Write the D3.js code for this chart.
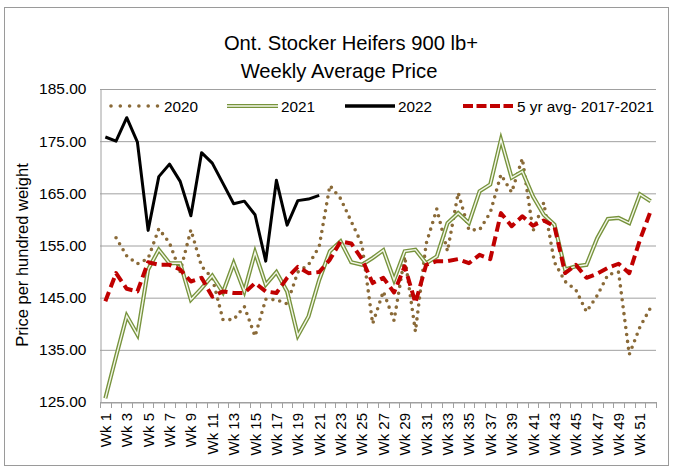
<!DOCTYPE html>
<html><head><meta charset="utf-8">
<script src="https://cdn.jsdelivr.net/npm/d3@7/dist/d3.min.js"></script>
<style>body{margin:0;background:#fff}svg{display:block}text{font-family:"Liberation Sans",Arial,sans-serif;fill:#000}</style>
</head><body><svg id="c" width="674" height="470"></svg>
<script>
const weeks = ["Wk 1","Wk 2","Wk 3","Wk 4","Wk 5","Wk 6","Wk 7","Wk 8","Wk 9","Wk 10","Wk 11","Wk 12","Wk 13","Wk 14","Wk 15","Wk 16","Wk 17","Wk 18","Wk 19","Wk 20","Wk 21","Wk 22","Wk 23","Wk 24","Wk 25","Wk 26","Wk 27","Wk 28","Wk 29","Wk 30","Wk 31","Wk 32","Wk 33","Wk 34","Wk 35","Wk 36","Wk 37","Wk 38","Wk 39","Wk 40","Wk 41","Wk 42","Wk 43","Wk 44","Wk 45","Wk 46","Wk 47","Wk 48","Wk 49","Wk 50","Wk 51","Wk 52"];
const yTicks = [125,135,145,155,165,175,185];
const seriesNames = ["2020","2021","2022","5 yr avg- 2017-2021"];
const s2020 = [null,156.5,153.0,151.5,152.5,158.2,155.5,150.0,158.0,151.0,148.8,140.8,140.8,143.3,137.6,144.7,144.6,143.8,149.9,151.3,154.8,166.5,164.0,159.6,155.2,140.0,146.2,140.6,152.9,138.5,155.3,162.0,153.9,165.1,158.0,158.0,161.3,168.6,165.2,171.7,157.8,163.2,151.8,148.1,146.5,142.3,145.4,149.4,149.9,134.1,139.4,143.1];
const s2021 = [125.7,133.7,141.5,137.9,150.4,154.2,151.6,151.6,144.6,146.8,149.2,146.0,151.6,146.2,153.7,147.5,149.9,146.2,137.7,141.4,148.4,153.9,155.8,151.8,151.3,152.6,154.1,148.4,153.9,154.2,151.6,152.9,159.3,161.2,159.3,165.4,166.7,175.3,168.0,169.2,164.4,160.9,159.0,150.4,151.0,151.3,156.4,160.1,160.3,159.3,164.8,163.5];
const s2022 = [175.8,175.0,179.5,174.8,157.9,168.2,170.6,167.3,160.7,172.8,170.8,166.9,163.0,163.5,160.9,152.0,167.5,158.9,163.6,163.9,164.6];
const s5yr = [144.3,149.7,146.7,146.2,151.8,151.3,151.3,150.4,148.1,148.8,145.2,146.2,145.9,145.9,147.8,146.2,145.9,148.8,150.9,149.7,149.9,152.3,155.8,155.4,152.4,147.8,148.8,146.0,151.0,144.0,151.3,152.0,152.0,152.4,151.6,153.2,152.4,161.2,158.7,160.6,158.8,159.8,158.7,149.7,151.3,148.8,149.6,150.7,151.5,149.7,156.1,161.6];

const svg = d3.select("#c");
const L = 100, R = 656, T = 89, B = 402;
const x = d3.scaleBand().domain(weeks).range([L, R]);
const y = d3.scaleLinear().domain([125, 185]).range([B, T]);

// outer border
svg.append("rect").attr("x",4.5).attr("y",7.5).attr("width",664).attr("height",458)
  .attr("fill","#fff").attr("stroke","#9a9a9a").attr("stroke-width",1);

// title
svg.append("text").attr("x",351).attr("y",50).attr("text-anchor","middle").style("font-size","20.2px").text("Ont. Stocker Heifers 900 lb+");
svg.append("text").attr("x",339).attr("y",78).attr("text-anchor","middle").style("font-size","20.2px").text("Weekly Average Price");

// gridlines
svg.append("g").selectAll("line").data(yTicks).join("line")
  .attr("x1",L).attr("x2",R).attr("y1",d=>y(d)+0.5).attr("y2",d=>y(d)+0.5)
  .attr("stroke","#a0a0a0").attr("stroke-width",1);

// y axis
const yAxis = svg.append("g").attr("transform",`translate(${L+0.5},0)`)
  .call(d3.axisLeft(y).tickValues(yTicks).tickFormat(d3.format(".2f")).tickSize(0).tickPadding(14));
yAxis.select(".domain").attr("stroke","#a0a0a0");
yAxis.selectAll("text").style("font-size","15.5px").style("font-family","Liberation Sans, Arial, sans-serif").attr("fill","#000");

// x axis
const xAxis = svg.append("g").attr("transform",`translate(0,${B+0.5})`)
  .call(d3.axisBottom(x).tickSize(0).tickFormat(""));
xAxis.select(".domain").attr("stroke","#a0a0a0");
xAxis.selectAll(".tick").remove();
const bounds = weeks.map(w => x(w)).concat([R]);
svg.append("g").selectAll("line").data(bounds).join("line")
  .attr("x1",d=>Math.round(d)+0.5).attr("x2",d=>Math.round(d)+0.5).attr("y1",B).attr("y2",B+6)
  .attr("stroke","#a0a0a0");
svg.append("g").selectAll("text").data(weeks.filter((w,i)=>i%2===0)).join("text")
  .attr("transform",d=>`translate(${x(d)+x.bandwidth()/2+5.5},${B+11}) rotate(-90)`)
  .attr("text-anchor","end").style("font-size","15px").text(d=>d);

// y axis title
svg.append("text").attr("transform","translate(28,255) rotate(-90)").attr("text-anchor","middle")
  .style("font-size","16.5px").text("Price per hundred weight");

const cx = i => x(weeks[i]) + x.bandwidth()/2;
const line = d3.line().defined(d=>d!=null).x((d,i)=>cx(i)).y(d=>y(d));

// 2020 dotted
svg.append("path").attr("d",line(s2020)).attr("fill","none").attr("stroke","#8a6a38")
  .attr("stroke-width",3.6).attr("stroke-linecap","round").attr("stroke-dasharray","0,7");
// 2021 double
svg.append("path").attr("d",line(s2021)).attr("fill","none").attr("stroke","#77933c")
  .attr("stroke-width",4.1).attr("stroke-linejoin","miter");
svg.append("path").attr("d",line(s2021)).attr("fill","none").attr("stroke","#f3f7ea")
  .attr("stroke-width",1.4).attr("stroke-linejoin","miter");
// 2022 black
svg.append("path").attr("d",line(s2022)).attr("fill","none").attr("stroke","#000")
  .attr("stroke-width",3).attr("stroke-linejoin","round");
// 5 yr avg
svg.append("path").attr("d",line(s5yr)).attr("fill","none").attr("stroke","#c00000")
  .attr("stroke-width",4).attr("stroke-dasharray","10,5").attr("stroke-linejoin","round");

// legend
const ly = 106;
const lg = svg.append("g");
lg.append("line").attr("x1",111).attr("x2",158).attr("y1",ly).attr("y2",ly).attr("stroke","#8a6a38")
  .attr("stroke-width",3.6).attr("stroke-linecap","round").attr("stroke-dasharray","0,9.3");
lg.append("line").attr("x1",227).attr("x2",278).attr("y1",ly).attr("y2",ly).attr("stroke","#77933c").attr("stroke-width",4.1);
lg.append("line").attr("x1",227).attr("x2",278).attr("y1",ly).attr("y2",ly).attr("stroke","#f3f7ea").attr("stroke-width",1.4);
lg.append("line").attr("x1",345).attr("x2",395).attr("y1",ly).attr("y2",ly).attr("stroke","#000").attr("stroke-width",3.5);
lg.append("line").attr("x1",463).attr("x2",513).attr("y1",ly).attr("y2",ly).attr("stroke","#c00000").attr("stroke-width",4).attr("stroke-dasharray","10,3.5");
const lt = [[164,seriesNames[0]],[281,seriesNames[1]],[398,seriesNames[2]],[517,seriesNames[3]]];
lg.selectAll("text").data(lt).join("text").attr("x",d=>d[0]).attr("y",ly+5.5).style("font-size","15.3px").text(d=>d[1]);
</script></body></html>
